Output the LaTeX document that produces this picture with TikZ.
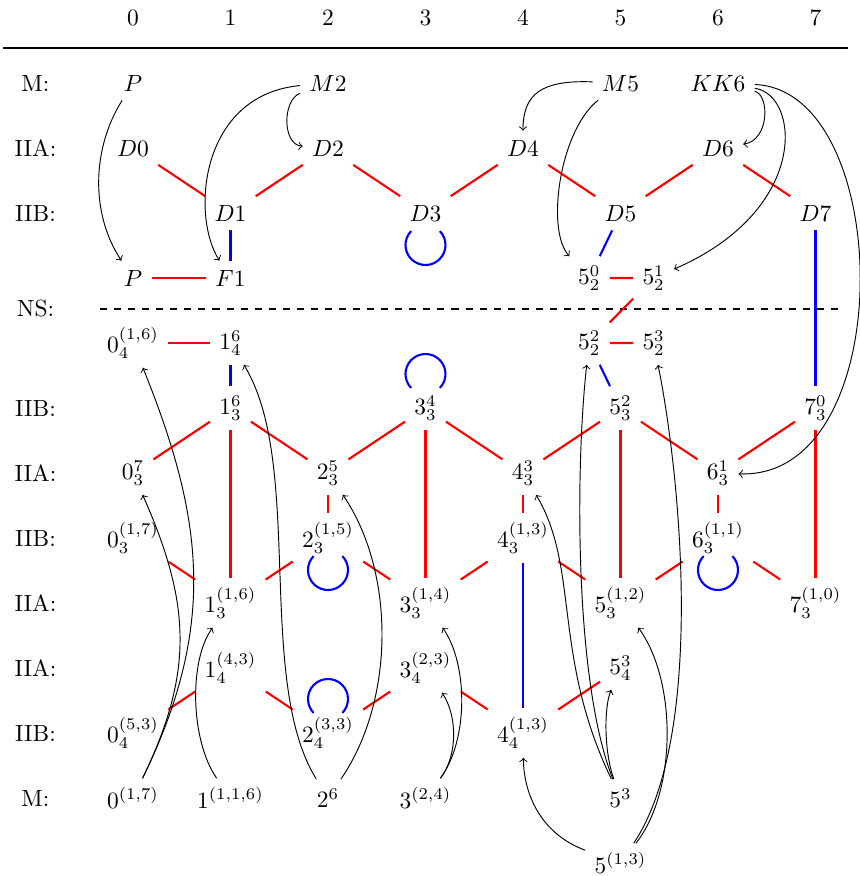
\documentclass[tikz,border=0pt]{standalone}
\usepackage{amsmath}

\begin{document}
\begin{tikzpicture}[x=1.4625cm,y=0.975cm,inner sep=3.8pt,
    rd/.style={red,line width=0.9pt},
    bl/.style={blue,line width=0.9pt},
    arr/.style={->,black,line width=0.4pt}]
    \useasboundingbox (-1.364,1.277) rectangle (7.456,-12.2);

    % header
    \foreach \i in {0,...,7}
        \node (h\i) at (\i,1) {\i};
    \draw[line width=1.2pt] (-1.333,0.538) -- (7.333,0.538);
    \draw[dashed,line width=0.8pt] (-0.338,-3.477) -- (7.28,-3.477);

    \node (lM) at (-1,0) {M:};
    \node (lA) at (-1,-1) {IIA:};
    \node (lB) at (-1,-2) {IIB:};
    \node (lNS) at (-1,-3.47) {NS:};
    \node (lB2) at (-1,-5) {IIB:};
    \node (lA2) at (-1,-6) {IIA:};
    \node (lB3) at (-1,-7) {IIB:};
    \node (lA3) at (-1,-8) {IIA:};
    \node (lA4) at (-1,-9) {IIA:};
    \node (lB4) at (-1,-10) {IIB:};
    \node (lM2) at (-1,-11) {M:};

    % branes
    \node (P) at (0,0) {$P$};
    \node (M2) at (2,0) {$M2$};
    \node (M5) at (5,0) {$M5$};
    \node (KK6) at (6,0) {$KK6$};
    \node (D0) at (0,-1) {$D0$};
    \node (D2) at (2,-1) {$D2$};
    \node (D4) at (4,-1) {$D4$};
    \node (D6) at (6,-1) {$D6$};
    \node (D1) at (1,-2) {$D1$};
    \node (D3) at (3,-2) {$D3$};
    \node (D5) at (5,-2) {$D5$};
    \node (D7) at (7,-2) {$D7$};
    \node (Pb) at (0,-3) {$P$};
    \node (F1) at (1,-3) {$F1$};
    \node (n5-2-0) at (4.68,-3) {$5_2^0$};
    \node (n5-2-1) at (5.34,-3) {$5_2^1$};

    % non-standard
    \node (n0-4-16) at (0,-4) {$0_4^{(1,6)}$};
    \node (n1-4-6) at (1,-4) {$1_4^6$};
    \node (n5-2-2) at (4.68,-4) {$5_2^2$};
    \node (n5-2-3) at (5.34,-4) {$5_2^3$};
    \node (n1-3-6) at (1,-5) {$1_3^6$};
    \node (n3-3-4) at (3,-5) {$3_3^4$};
    \node (n5-3-2) at (5,-5) {$5_3^2$};
    \node (n7-3-0) at (7,-5) {$7_3^0$};
    \node (n0-3-7) at (0,-6) {$0_3^7$};
    \node (n2-3-5) at (2,-6) {$2_3^5$};
    \node (n4-3-3) at (4,-6) {$4_3^3$};
    \node (n6-3-1) at (6,-6) {$6_3^1$};
    \node (n0-3-17) at (0,-7) {$0_3^{(1,7)}$};
    \node (n2-3-15) at (2,-7) {$2_3^{(1,5)}$};
    \node (n4-3-13) at (4,-7) {$4_3^{(1,3)}$};
    \node (n6-3-11) at (6,-7) {$6_3^{(1,1)}$};
    \node (n1-3-16) at (1,-8) {$1_3^{(1,6)}$};
    \node (n3-3-14) at (3,-8) {$3_3^{(1,4)}$};
    \node (n5-3-12) at (5,-8) {$5_3^{(1,2)}$};
    \node (n7-3-10) at (7,-8) {$7_3^{(1,0)}$};
    \node (n1-4-43) at (1,-9) {$1_4^{(4,3)}$};
    \node (n3-4-23) at (3,-9) {$3_4^{(2,3)}$};
    \node (n5-4-3) at (5,-9) {$5_4^3$};
    \node (n0-4-53) at (0,-10) {$0_4^{(5,3)}$};
    \node (n2-4-33) at (2,-10) {$2_4^{(3,3)}$};
    \node (n4-4-13) at (4,-10) {$4_4^{(1,3)}$};
    \node (m0-17) at (0,-11) {$0^{(1,7)}$};
    \node (m1-116) at (1,-11) {$1^{(1,1,6)}$};
    \node (m2-6) at (2,-11) {$2^6$};
    \node (m3-24) at (3,-11) {$3^{(2,4)}$};
    \node (m5-3) at (5,-11) {$5^3$};
    \node (m5-13) at (5,-12) {$5^{(1,3)}$};

    % T-duality
    \draw[rd] (D0) -- (D1) -- (D2) -- (D3) -- (D4) -- (D5) -- (D6) -- (D7);
    \draw[rd] (Pb) -- (F1);
    \draw[rd] (n5-2-0) -- (n5-2-1) -- (n5-2-2) -- (n5-2-3);
    \draw[rd] (n0-4-16) -- (n1-4-6);
    \draw[rd] (n0-3-7) -- (n1-3-6) -- (n2-3-5) -- (n3-3-4) -- (n4-3-3) -- (n5-3-2) -- (n6-3-1) -- (n7-3-0);
    \draw[rd] (n1-3-6) -- (n1-3-16);
    \draw[rd] (n3-3-4) -- (n3-3-14);
    \draw[rd] (n5-3-2) -- (n5-3-12);
    \draw[rd] (n7-3-0) -- (n7-3-10);
    \draw[rd] (n2-3-5) -- (n2-3-15);
    \draw[rd] (n4-3-3) -- (n4-3-13);
    \draw[rd] (n6-3-1) -- (n6-3-11);
    \draw[rd] (n0-3-17) -- (n1-3-16) -- (n2-3-15) -- (n3-3-14) -- (n4-3-13) -- (n5-3-12) -- (n6-3-11) -- (n7-3-10);
    \draw[rd] (n0-4-53) -- (n1-4-43) -- (n2-4-33) -- (n3-4-23) -- (n4-4-13) -- (n5-4-3);

    % S-duality
    \draw[bl] (D1) -- (F1);
    \draw[bl] (D5) -- (n5-2-0);
    \draw[bl] (D7) -- (n7-3-0);
    \draw[bl] (n1-4-6) -- (n1-3-6);
    \draw[bl] (n5-2-2) -- (n5-3-2);
    \draw[bl] (n4-3-13) -- (n4-4-13);
    \draw[bl] ([yshift=-0.48cm]D3.center) ++(136:0.3cm) arc[start angle=136,end angle=404,radius=0.3cm];
    \draw[bl] ([yshift=-0.48cm]n2-3-15.center) ++(136:0.3cm) arc[start angle=136,end angle=404,radius=0.3cm];
    \draw[bl] ([yshift=-0.48cm]n6-3-11.center) ++(136:0.3cm) arc[start angle=136,end angle=404,radius=0.3cm];
    \draw[bl] ([yshift=0.51cm]n3-3-4.center) ++(-44:0.3cm) arc[start angle=-44,end angle=224,radius=0.3cm];
    \draw[bl] ([yshift=0.51cm]n2-4-33.center) ++(-44:0.3cm) arc[start angle=-44,end angle=224,radius=0.3cm];

    % reductions
    \draw[arr] (P) .. controls +(-0.43,-1.03) and +(-0.43,0.97) .. (Pb);
    \draw[arr] (M2) .. controls +(-1.31,-0.18) and +(-0.41,0.97) .. (F1);
    \draw[arr] (M2) .. controls +(-0.47,-0.26) and +(-0.47,0.05) .. (D2);
    \draw[arr] (M5) .. controls +(-0.82,0.05) and +(0,0.82) .. (D4);
    \draw[arr] (M5) .. controls +(-0.62,-0.72) and +(-0.45,0.74) .. (n5-2-0);
    \draw[arr] (KK6) .. controls +(0.53,-0.18) and +(0.53,0.12) .. (D6);
    \draw[arr] (KK6) .. controls +(0.84,-0.18) and +(1.61,1.05) .. (n5-2-1);
    \draw[arr] (KK6) .. controls +(1.82,-0.11) and +(1.87,-0.11) .. (n6-3-1);

    \draw[arr] (m0-17) .. controls +(0.86,2.65) and +(0.73,-2.72) .. (n0-4-16);
    \draw[arr] (m0-17) .. controls +(0.63,1.95) and +(0.59,-2.0) .. (n0-3-7);
    \draw[arr] (m1-116) .. controls +(-0.41,0.88) and +(-0.43,-0.89) .. (n1-3-16);
    \draw[arr] (m2-6) .. controls +(-0.75,1.82) and +(0.76,-1.86) .. (n1-4-6);
    \draw[arr] (m2-6) .. controls +(0.69,1.51) and +(0.69,-1.52) .. (n2-3-5);
    \draw[arr] (m3-24) .. controls +(0.44,0.88) and +(0.44,-0.95) .. (n3-3-14);
    \draw[arr] (m3-24) .. controls +(0.33,0.65) and +(0.33,-0.74) .. (n3-4-23);
    \draw[arr] (m5-3) .. controls +(-0.48,1.8) and +(-0.14,-1.83) .. (n5-2-2);
    \draw[arr] (m5-3) .. controls +(-0.70,2.18) and +(0.58,-1.45) .. (n4-3-3);
    \draw[arr] (m5-3) .. controls +(-0.17,0.72) and +(-0.17,-0.6) .. (n5-4-3);
    \draw[arr] (m5-13) .. controls +(-0.77,0.42) and +(0.01,-1.03) .. (n4-4-13);
    \draw[arr] (m5-13) .. controls +(0.58,1.11) and +(0.58,-1.2) .. (n5-3-12);
    \draw[arr] (m5-13) .. controls +(0.87,1.95) and +(0.28,-2.08) .. (n5-2-3);
\end{tikzpicture}
\end{document}
